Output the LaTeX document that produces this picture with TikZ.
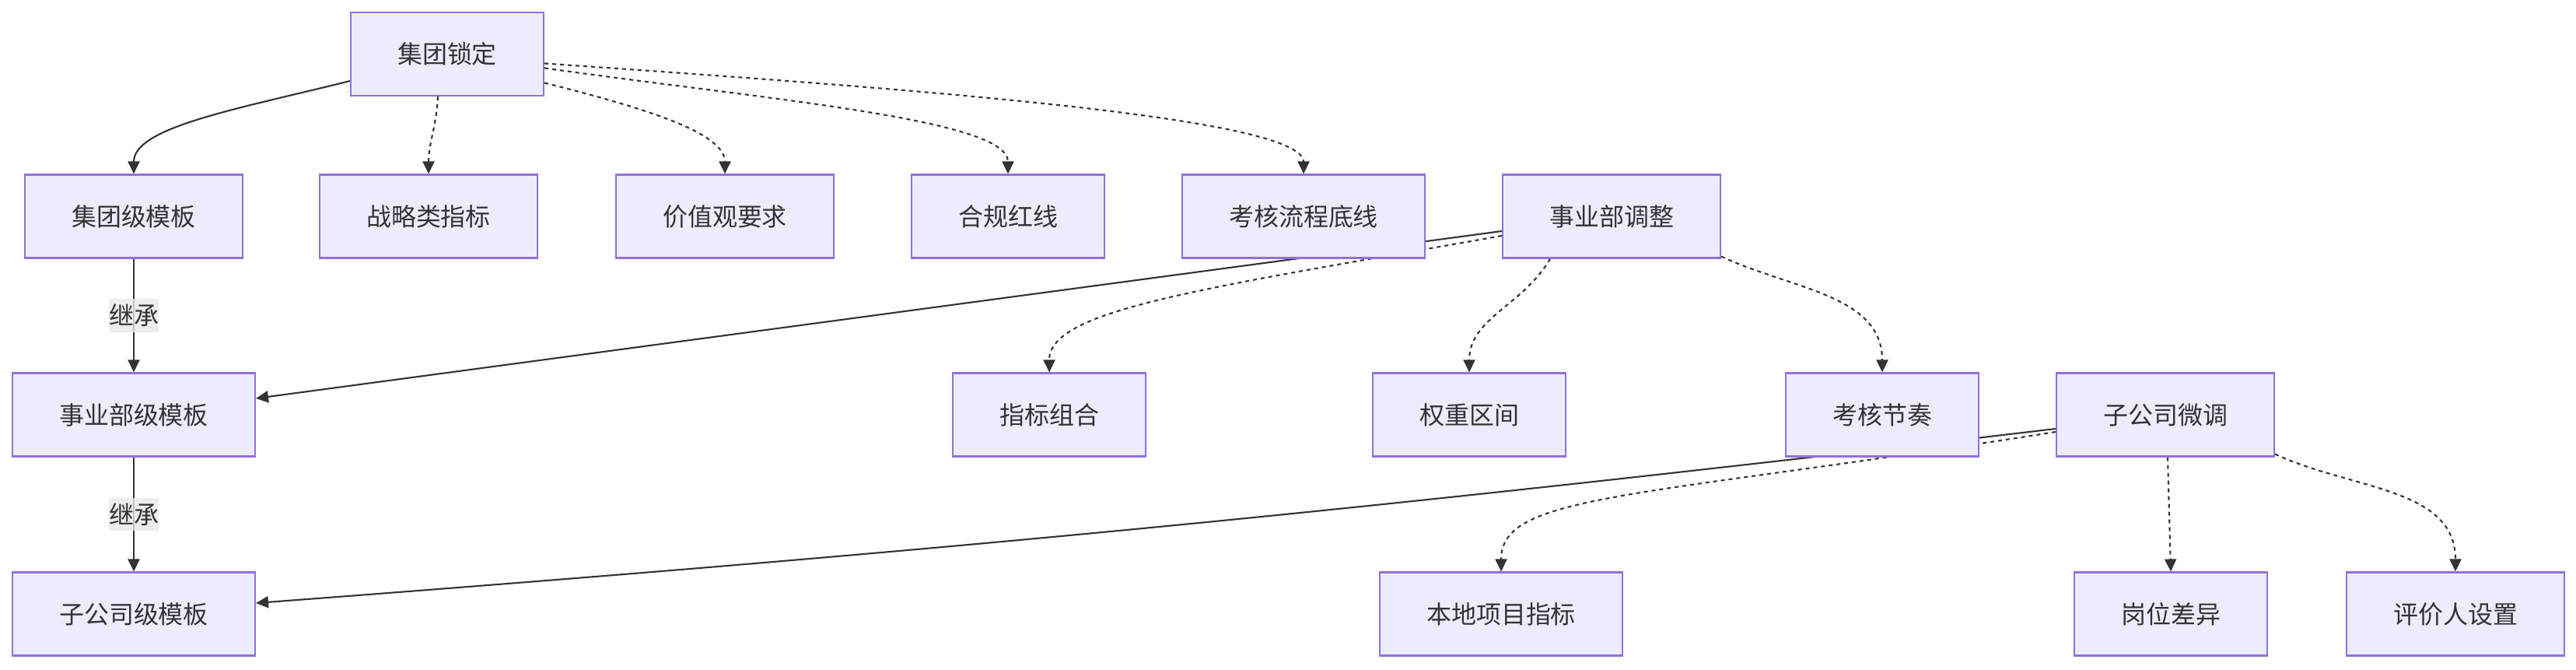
\documentclass[tikz,border=0pt]{standalone}
\usepackage{fontspec}
\usepackage{xcolor}
\usepackage{tikz}
\usetikzlibrary{arrows.meta, backgrounds}
\newfontfamily\cjk{Noto Sans CJK SC}
\definecolor{mfill}{HTML}{ECECFF}
\definecolor{mline}{HTML}{9370DB}
\definecolor{mtext}{HTML}{333333}
\definecolor{mlabel}{HTML}{E8E8E8}

\begin{document}
\begin{tikzpicture}[x=1cm, y=1cm,
  box/.style={draw=mline, fill=mfill, line width=0.6pt, minimum height=1.07cm,
    inner xsep=0.6cm, inner ysep=0pt, text=mtext, font=\cjk\fontsize{9.1pt}{11pt}\selectfont},
  link/.style={draw=mtext, line width=0.6pt, -{Triangle[length=0.16cm, width=0.15cm]}},
  dotlink/.style={link, dash pattern=on 0.05cm off 0.05cm},
  edgelabel/.style={fill=mlabel, fill opacity=0.8, text opacity=1, text=mtext,
    inner xsep=0pt, inner ysep=0.065cm, font=\cjk\fontsize{9.1pt}{11pt}\selectfont}]
\useasboundingbox (0,0) rectangle (33.12,8.60);
\node[box] (lock) at (5.75,7.905) {集团锁定};
\node[box] (tplGroup) at (1.72,5.82) {集团级模板};
\node[box] (stratKpi) at (5.51,5.82) {战略类指标};
\node[box] (values) at (9.32,5.82) {价值观要求};
\node[box] (redline) at (12.96,5.82) {合规红线};
\node[box] (procBase) at (16.76,5.82) {考核流程底线};
\node[box] (buAdjust) at (20.72,5.82) {事业部调整};
\node[box] (tplBu) at (1.72,3.27) {事业部级模板};
\node[box] (kpiMix) at (13.49,3.27) {指标组合};
\node[box] (weightRange) at (18.89,3.27) {权重区间};
\node[box] (cadence) at (24.20,3.27) {考核节奏};
\node[box] (subAdjust) at (27.84,3.27) {子公司微调};
\node[box] (tplSub) at (1.72,0.71) {子公司级模板};
\node[box] (localKpi) at (19.30,0.71) {本地项目指标};
\node[box] (roleDiff) at (27.91,0.71) {岗位差异};
\node[box] (raterSet) at (31.57,0.71) {评价人设置};
\begin{pgfonlayer}{background}
\draw[link] ([yshift=0.2cm]lock.south west) to[out=194, in=90, out distance=1.5cm, in distance=0.6cm] (tplGroup.north);
\draw[dotlink] ([xshift=-0.12cm]lock.south) to[out=-93, in=90] (stratKpi.north);
\draw[dotlink] ([yshift=-0.37cm]lock.east) to[out=-14, in=90, out distance=1.5cm, in distance=0.5cm] (values.north);
\draw[dotlink] ([yshift=-0.18cm]lock.east) to[out=-8, in=90, out distance=3cm, in distance=0.7cm] (redline.north);
\draw[dotlink] ([yshift=-0.12cm]lock.east) to[out=-4, in=90, out distance=4.5cm, in distance=0.74cm] (procBase.north);
\draw[link] (tplGroup) -- node[edgelabel] {继承} (tplBu);
\draw[link] (tplBu) -- node[edgelabel] {继承} (tplSub);
\draw[link] ([yshift=-0.19cm]buAdjust.west) -- ([yshift=0.21cm]tplBu.east);
\draw[dotlink] ([yshift=-0.25cm]buAdjust.west) to[out=190, in=90, out distance=4cm, in distance=0.8cm] (kpiMix.north);
\draw[dotlink] ([xshift=-0.79cm]buAdjust.south) to[out=240, in=90] (weightRange.north);
\draw[dotlink] ([yshift=0.03cm]buAdjust.south east) to[out=-25, in=90] (cadence.north);
\draw[link] ([yshift=-0.18cm]subAdjust.west) to[bend left=1.2] ([yshift=0.14cm]tplSub.east);
\draw[dotlink] ([yshift=-0.22cm]subAdjust.west) to[out=189, in=90, out distance=5.5cm, in distance=1cm] (localKpi.north);
\draw[dotlink] ([xshift=0.03cm]subAdjust.south) -- (roleDiff.north);
\draw[dotlink] ([yshift=0.04cm]subAdjust.south east) to[out=-25, in=90] (raterSet.north);
\end{pgfonlayer}
\end{tikzpicture}
\end{document}
